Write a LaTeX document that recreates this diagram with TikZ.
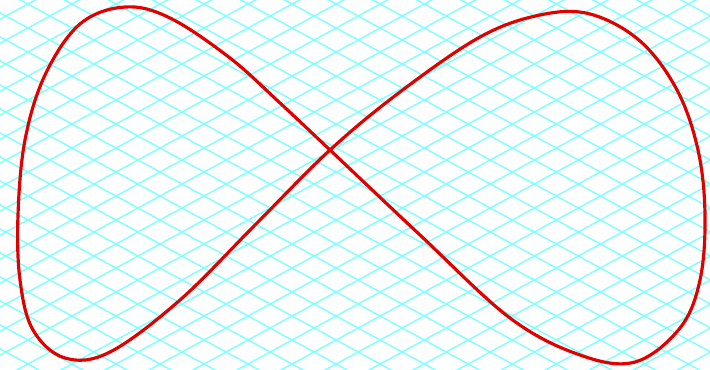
\documentclass[tikz,border=0pt]{standalone}
\usepackage{tikz}
\usepackage{xcolor}
\definecolor{meshcyan}{HTML}{80FFFF}
\definecolor{loopred}{HTML}{E00000}
\tikzset{
    meshline/.style={
        draw=meshcyan, line width=0.8pt
    },
    eightcurve/.style={
        draw=loopred, line width=1.8pt, line join=round
    }
}

\begin{document}
\begin{tikzpicture}[x=0.02cm, y=-0.02cm]
      \useasboundingbox (0,0) rectangle (710,369);
      \fill[white] (0,0) rectangle (710,369);

      % skewed mesh
      \begin{scope}
        \clip (0,0) rectangle (710,369);
        \foreach \k in {-20,...,34} {
          \draw[meshline] (-10,{-5.45+12.8+24*\k}) -- (720,{392.4+12.8+24*\k});
          \draw[meshline] (-10,{5.45+19.2+24*\k}) -- (720,{-392.4+19.2+24*\k});
        }
      \end{scope}

      % figure eight
      \draw[eightcurve] plot[smooth cycle, tension=0.6] coordinates {
        (330,150) (420,235) (510,318) (580,355) (635,362) (680,328) (700,280)
        (705,215) (698,150) (677,90) (640,41) (590,14) (540,15) (480,37) (400,92)
        (330,150) (255,225) (180,300) (110,352) (65,358) (33,330) (20,280)
        (18,215) (25,140) (45,75) (80,24) (125,7) (170,18) (230,58) (280,103)
      };
    \end{tikzpicture}
\end{document}
